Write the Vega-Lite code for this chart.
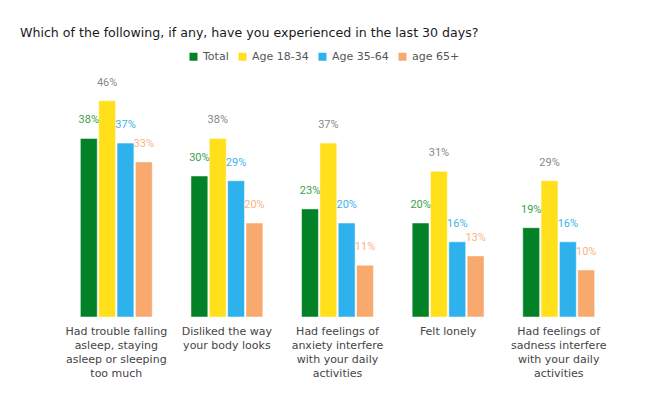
{
  "$schema": "https://vega.github.io/schema/vega-lite/v6.json",
  "width": 553,
  "height": 235,
  "autosize": "none",
  "padding": {"left": 61, "top": 82, "right": 39, "bottom": 83},
  "background": "white",
  "title": {
    "text": "Which of the following, if any, have you experienced in the last 30 days?",
    "anchor": "start",
    "frame": "group",
    "dx": -41,
    "offset": 11,
    "font": "DejaVu Sans",
    "fontSize": 12.6,
    "fontWeight": "normal",
    "color": "#1a1a1a"
  },
  "data": {
    "values": [
      {"item": "Had trouble falling|asleep, staying|asleep or sleeping|too much", "group": "Total", "pct": 0.38},
      {"item": "Had trouble falling|asleep, staying|asleep or sleeping|too much", "group": "Age 18-34", "pct": 0.46},
      {"item": "Had trouble falling|asleep, staying|asleep or sleeping|too much", "group": "Age 35-64", "pct": 0.37},
      {"item": "Had trouble falling|asleep, staying|asleep or sleeping|too much", "group": "age 65+", "pct": 0.33},
      {"item": "Disliked the way|your body looks", "group": "Total", "pct": 0.30},
      {"item": "Disliked the way|your body looks", "group": "Age 18-34", "pct": 0.38},
      {"item": "Disliked the way|your body looks", "group": "Age 35-64", "pct": 0.29},
      {"item": "Disliked the way|your body looks", "group": "age 65+", "pct": 0.20},
      {"item": "Had feelings of|anxiety interfere|with your daily|activities", "group": "Total", "pct": 0.23},
      {"item": "Had feelings of|anxiety interfere|with your daily|activities", "group": "Age 18-34", "pct": 0.37},
      {"item": "Had feelings of|anxiety interfere|with your daily|activities", "group": "Age 35-64", "pct": 0.20},
      {"item": "Had feelings of|anxiety interfere|with your daily|activities", "group": "age 65+", "pct": 0.11},
      {"item": "Felt lonely", "group": "Total", "pct": 0.20},
      {"item": "Felt lonely", "group": "Age 18-34", "pct": 0.31},
      {"item": "Felt lonely", "group": "Age 35-64", "pct": 0.16},
      {"item": "Felt lonely", "group": "age 65+", "pct": 0.13},
      {"item": "Had feelings of|sadness interfere|with your daily|activities", "group": "Total", "pct": 0.19},
      {"item": "Had feelings of|sadness interfere|with your daily|activities", "group": "Age 18-34", "pct": 0.29},
      {"item": "Had feelings of|sadness interfere|with your daily|activities", "group": "Age 35-64", "pct": 0.16},
      {"item": "Had feelings of|sadness interfere|with your daily|activities", "group": "age 65+", "pct": 0.10}
    ]
  },
  "encoding": {
    "x": {
      "field": "item",
      "type": "nominal",
      "sort": null,
      "title": null,
      "scale": {"paddingInner": 0.35, "paddingOuter": 0.175},
      "axis": {
        "labelExpr": "split(datum.label, '|')",
        "labelAngle": 0,
        "labelFont": "DejaVu Sans",
        "labelFontSize": 11,
        "labelColor": "#444",
        "labelLineHeight": 14,
        "labelPadding": 8,
        "labelLimit": 200,
        "domain": false,
        "ticks": false
      }
    },
    "xOffset": {
      "field": "group",
      "type": "nominal",
      "scale": {"domain": ["Total", "Age 18-34", "Age 35-64", "age 65+"], "paddingInner": 0.08}
    },
    "y": {
      "field": "pct",
      "type": "quantitative",
      "scale": {"domain": [0, 0.5]},
      "axis": null
    }
  },
  "layer": [
    {
      "mark": {"type": "bar", "stroke": "white", "strokeWidth": 0.5},
      "encoding": {
        "color": {
          "field": "group",
          "type": "nominal",
          "scale": {
            "domain": ["Total", "Age 18-34", "Age 35-64", "age 65+"],
            "range": ["#028126", "#ffe01b", "#2eb2ee", "#f7a96e"]
          },
          "legend": {
            "title": null,
            "orient": "none",
            "direction": "horizontal",
            "legendX": 127,
            "legendY": -31,
            "symbolType": "square",
            "symbolSize": 64,
            "symbolStrokeWidth": 0,
            "labelFont": "DejaVu Sans",
            "labelFontSize": 11,
            "labelColor": "#555",
            "columnPadding": 8,
            "labelOffset": 4
          }
        }
      }
    },
    {
      "mark": {"type": "text", "baseline": "bottom", "dy": -13, "font": "Roboto", "fontSize": 11},
      "encoding": {
        "text": {"field": "pct", "type": "quantitative", "format": ".0%"},
        "color": {
          "field": "group",
          "type": "nominal",
          "scale": {
            "domain": ["Total", "Age 18-34", "Age 35-64", "age 65+"],
            "range": ["#3aa24c", "#888888", "#3cb4ec", "#f8b488"]
          },
          "legend": null
        }
      }
    }
  ],
  "resolve": {"scale": {"color": "independent"}},
  "config": {"view": {"stroke": null}}
}
